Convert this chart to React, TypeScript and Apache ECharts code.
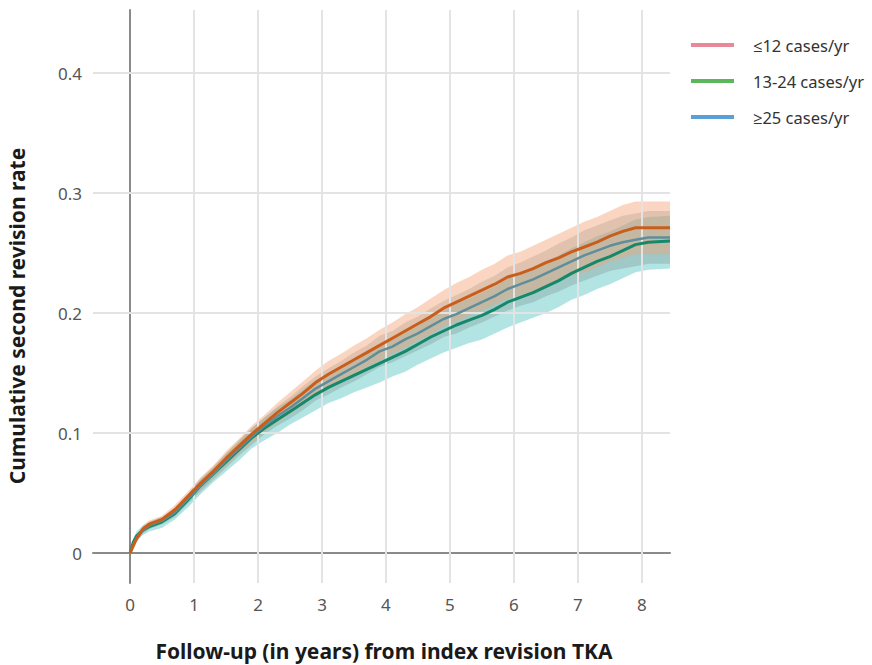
import React, { useEffect, useRef } from "react";
import * as echarts from "echarts";

// Follow-up times (years)
const times = [
  0, 0.05, 0.1, 0.2, 0.3,
  0.5, 0.7, 0.9, 1.1, 1.3,
  1.5, 1.7, 1.9, 2.1, 2.3,
  2.5, 2.7, 2.9, 3.1, 3.3,
  3.5, 3.7, 3.9, 4.1, 4.3,
  4.5, 4.7, 4.9, 5.1, 5.3,
  5.5, 5.7, 5.9, 6.1, 6.3,
  6.5, 6.7, 6.9, 7.1, 7.3,
  7.5, 7.7, 7.9, 8.1, 8.44,
];

// Orange curve (top)
const orangeEst = [
  0, 0.006, 0.012, 0.02, 0.024,
  0.028, 0.036, 0.047, 0.058, 0.068,
  0.079, 0.089, 0.099, 0.108, 0.117,
  0.125, 0.133, 0.142, 0.149, 0.155,
  0.161, 0.167, 0.173, 0.179, 0.185,
  0.191, 0.197, 0.204, 0.209, 0.214,
  0.219, 0.224, 0.23, 0.233, 0.237,
  0.242, 0.246, 0.251, 0.255, 0.259,
  0.264, 0.268, 0.271, 0.271, 0.271,
];
const orangeHi = [
  0, 0.008, 0.015, 0.023, 0.027,
  0.031, 0.04, 0.051, 0.063, 0.073,
  0.085, 0.095, 0.106, 0.115, 0.125,
  0.134, 0.143, 0.152, 0.16, 0.166,
  0.173, 0.179, 0.186, 0.192, 0.199,
  0.205, 0.212, 0.219, 0.225, 0.23,
  0.236, 0.241, 0.248, 0.251, 0.256,
  0.261, 0.266, 0.271, 0.276, 0.28,
  0.285, 0.29, 0.293, 0.293, 0.293,
];
const orangeLo = [
  0, 0.004, 0.009, 0.017, 0.021,
  0.025, 0.032, 0.043, 0.053, 0.063,
  0.073, 0.083, 0.092, 0.101, 0.109,
  0.116, 0.123, 0.132, 0.138, 0.144,
  0.149, 0.155, 0.16, 0.166, 0.171,
  0.177, 0.182, 0.189, 0.193, 0.198,
  0.202, 0.207, 0.212, 0.215, 0.218,
  0.223, 0.226, 0.231, 0.234, 0.238,
  0.243, 0.246, 0.249, 0.249, 0.249,
];

// Grey-blue curve (middle)
const greyEst = [
  0, 0.007, 0.012, 0.019, 0.023,
  0.027, 0.034, 0.045, 0.056, 0.066,
  0.077, 0.087, 0.097, 0.106, 0.114,
  0.121, 0.129, 0.137, 0.143, 0.149,
  0.155, 0.161, 0.168, 0.172, 0.178,
  0.183, 0.189, 0.195, 0.199, 0.204,
  0.209, 0.214, 0.22, 0.224, 0.228,
  0.233, 0.238, 0.243, 0.248, 0.252,
  0.256, 0.259, 0.261, 0.263, 0.263,
];
const greyHi = [
  0, 0.009, 0.015, 0.022, 0.026,
  0.03, 0.038, 0.049, 0.061, 0.071,
  0.083, 0.093, 0.104, 0.113, 0.122,
  0.13, 0.139, 0.147, 0.154, 0.16,
  0.167, 0.173, 0.181, 0.185, 0.192,
  0.197, 0.204, 0.21, 0.215, 0.22,
  0.226, 0.231, 0.238, 0.242, 0.247,
  0.252, 0.258, 0.263, 0.269, 0.273,
  0.277, 0.281, 0.283, 0.285, 0.285,
];
const greyLo = [
  0, 0.005, 0.009, 0.016, 0.02,
  0.024, 0.03, 0.041, 0.051, 0.061,
  0.071, 0.081, 0.09, 0.099, 0.106,
  0.112, 0.119, 0.127, 0.132, 0.138,
  0.143, 0.149, 0.155, 0.159, 0.164,
  0.169, 0.174, 0.18, 0.183, 0.188,
  0.192, 0.197, 0.202, 0.206, 0.209,
  0.214, 0.218, 0.223, 0.227, 0.231,
  0.235, 0.237, 0.239, 0.241, 0.241,
];

// Green curve (bottom)
const greenEst = [
  0, 0.009, 0.014, 0.019, 0.022,
  0.026, 0.033, 0.044, 0.056, 0.066,
  0.076, 0.086, 0.096, 0.104, 0.111,
  0.118, 0.125, 0.132, 0.138, 0.143,
  0.148, 0.153, 0.158, 0.163, 0.168,
  0.174, 0.18, 0.185, 0.19, 0.194,
  0.198, 0.203, 0.209, 0.213, 0.217,
  0.222, 0.227, 0.233, 0.238, 0.243,
  0.247, 0.252, 0.257, 0.259, 0.26,
];
const greenHi = [
  0, 0.012, 0.018, 0.023, 0.026,
  0.03, 0.037, 0.049, 0.062, 0.072,
  0.083, 0.094, 0.104, 0.113, 0.121,
  0.128, 0.136, 0.144, 0.15, 0.156,
  0.161, 0.167, 0.173, 0.178, 0.184,
  0.19, 0.197, 0.202, 0.208, 0.212,
  0.217, 0.222, 0.229, 0.233, 0.237,
  0.243, 0.248, 0.254, 0.259, 0.264,
  0.268, 0.273, 0.278, 0.28, 0.281,
];
const greenLo = [
  0, 0.006, 0.01, 0.015, 0.018,
  0.021, 0.028, 0.038, 0.049, 0.059,
  0.068, 0.077, 0.087, 0.094, 0.1,
  0.107, 0.113, 0.119, 0.125, 0.129,
  0.134, 0.138, 0.142, 0.147, 0.151,
  0.157, 0.162, 0.167, 0.171, 0.175,
  0.178, 0.183, 0.188, 0.192, 0.196,
  0.2, 0.205, 0.211, 0.215, 0.22,
  0.224, 0.229, 0.234, 0.236, 0.237,
];

const legendNames = ["≤12 cases/yr", "13-24 cases/yr", "≥25 cases/yr"];
const legendColors = ["#e8899a", "#5cb65c", "#5b9fd8"];
const xTicks = [0, 1, 2, 3, 4, 5, 6, 7, 8];
const yTicks = [0, 0.1, 0.2, 0.3, 0.4];
const xTitle = "Follow-up (in years) from index revision TKA";
const yTitle = "Cumulative second revision rate";

const FONT = "'Noto Sans', 'Open Sans', sans-serif";

function pairs(vals: number[]) {
  return times.map((t, i) => [t, vals[i]]);
}

// Confidence band drawn as one polygon per band
function bandSeries(lo: number[], hi: number[], color: string) {
  return {
    type: "custom",
    silent: true,
    z: 2,
    clip: true,
    data: times.map((t, i) => [t, lo[i], hi[i]]),
    encode: { x: 0, y: [1, 2] },
    renderItem: (params: any, api: any) => {
      if (params.dataIndex !== 0) return null;
      const upper: number[][] = [];
      const lower: number[][] = [];
      for (let i = 0; i < times.length; i++) {
        upper.push(api.coord([times[i], hi[i]]));
        lower.push(api.coord([times[i], lo[i]]));
      }
      const points = upper.concat(lower.reverse());
      return {
        type: "polygon",
        shape: { points },
        style: { fill: color, stroke: "none" },
      };
    },
  };
}

function lineSeries(name: string, vals: number[], color: string, width: number, z: number) {
  return {
    type: "line",
    name,
    data: pairs(vals),
    symbol: "none",
    lineStyle: { color, width, join: "round" },
    itemStyle: { color },
    silent: true,
    z,
  };
}

export default function App() {
  const ref = useRef<HTMLDivElement>(null);
  useEffect(() => {
    if (!ref.current) return;
    const chart = echarts.init(ref.current, undefined, { renderer: "svg" });
    const gridLines = [
      ...xTicks.filter((v) => v !== 0).map((v) => ({ xAxis: v })),
      ...yTicks.filter((v) => v !== 0).map((v) => ({ yAxis: v })),
    ];
    chart.setOption({
      animation: false,
      backgroundColor: "#ffffff",
      grid: { left: 93, right: 202, top: 10, bottom: 82, containLabel: false },
      xAxis: {
        type: "value",
        min: -0.58,
        max: 8.44,
        z: 3,
        axisLine: { show: true, onZero: true, lineStyle: { color: "#8a8a8a", width: 2 } },
        axisTick: { show: false },
        splitLine: { show: false },
        axisLabel: {
          customValues: xTicks,
          margin: 13,
          color: "#555",
          fontSize: 17,
          fontFamily: FONT,
          formatter: (v: number) => String(v),
        },
      },
      yAxis: {
        type: "value",
        min: -0.025,
        max: 0.4525,
        z: 3,
        axisLine: { show: true, onZero: true, lineStyle: { color: "#8a8a8a", width: 2 } },
        axisTick: { show: false },
        splitLine: { show: false },
        axisLabel: {
          customValues: yTicks,
          margin: 11,
          color: "#555",
          fontSize: 17,
          fontFamily: FONT,
          formatter: (v: number) => String(+v.toFixed(1)),
        },
      },
      legend: {
        orient: "vertical",
        left: 686,
        top: 30,
        itemWidth: 43,
        itemHeight: 4,
        itemGap: 16,
        icon: "rect",
        data: legendNames,
        textStyle: {
          color: "#333",
          fontSize: 16.5,
          fontFamily: FONT,
          lineHeight: 20,
          padding: [0, 0, 0, 14],
        },
      },
      graphic: [
        {
          type: "text",
          x: 17,
          y: 316,
          rotation: Math.PI / 2,
          style: {
            text: yTitle,
            fill: "#1a1a1a",
            font: `bold 21px ${FONT}`,
            align: "center",
            verticalAlign: "middle",
          },
        },
        {
          type: "text",
          x: 384,
          y: 651,
          style: {
            text: xTitle,
            fill: "#1a1a1a",
            font: `bold 21px ${FONT}`,
            align: "center",
            verticalAlign: "middle",
          },
        },
      ],
      series: [
        {
          type: "line",
          name: "grid",
          data: [],
          silent: true,
          z: 1,
          markLine: {
            silent: true,
            symbol: ["none", "none"],
            label: { show: false },
            lineStyle: { color: "#e3e3e3", width: 2, type: "solid" },
            data: gridLines,
          },
        },
        ...legendNames.map((n, i) => ({
          type: "line",
          name: n,
          data: [],
          itemStyle: { color: legendColors[i] },
          lineStyle: { color: legendColors[i] },
        })),
        bandSeries(greenLo, greenHi, "rgba(70,190,185,0.42)"),
        bandSeries(greyLo, greyHi, "rgba(125,150,150,0.35)"),
        bandSeries(orangeLo, orangeHi, "rgba(245,165,120,0.45)"),
        lineSeries("green-line", greenEst, "#15886a", 3, 5),
        lineSeries("grey-line", greyEst, "#5f8e9a", 2.5, 6),
        lineSeries("orange-line", orangeEst, "#c95e1c", 3, 7),
      ],
    });
    return () => chart.dispose();
  }, []);
  return (
    <div
      ref={ref}
      style={{ position: "fixed", left: 0, top: 0, width: 872, height: 665 }}
    />
  );
}
